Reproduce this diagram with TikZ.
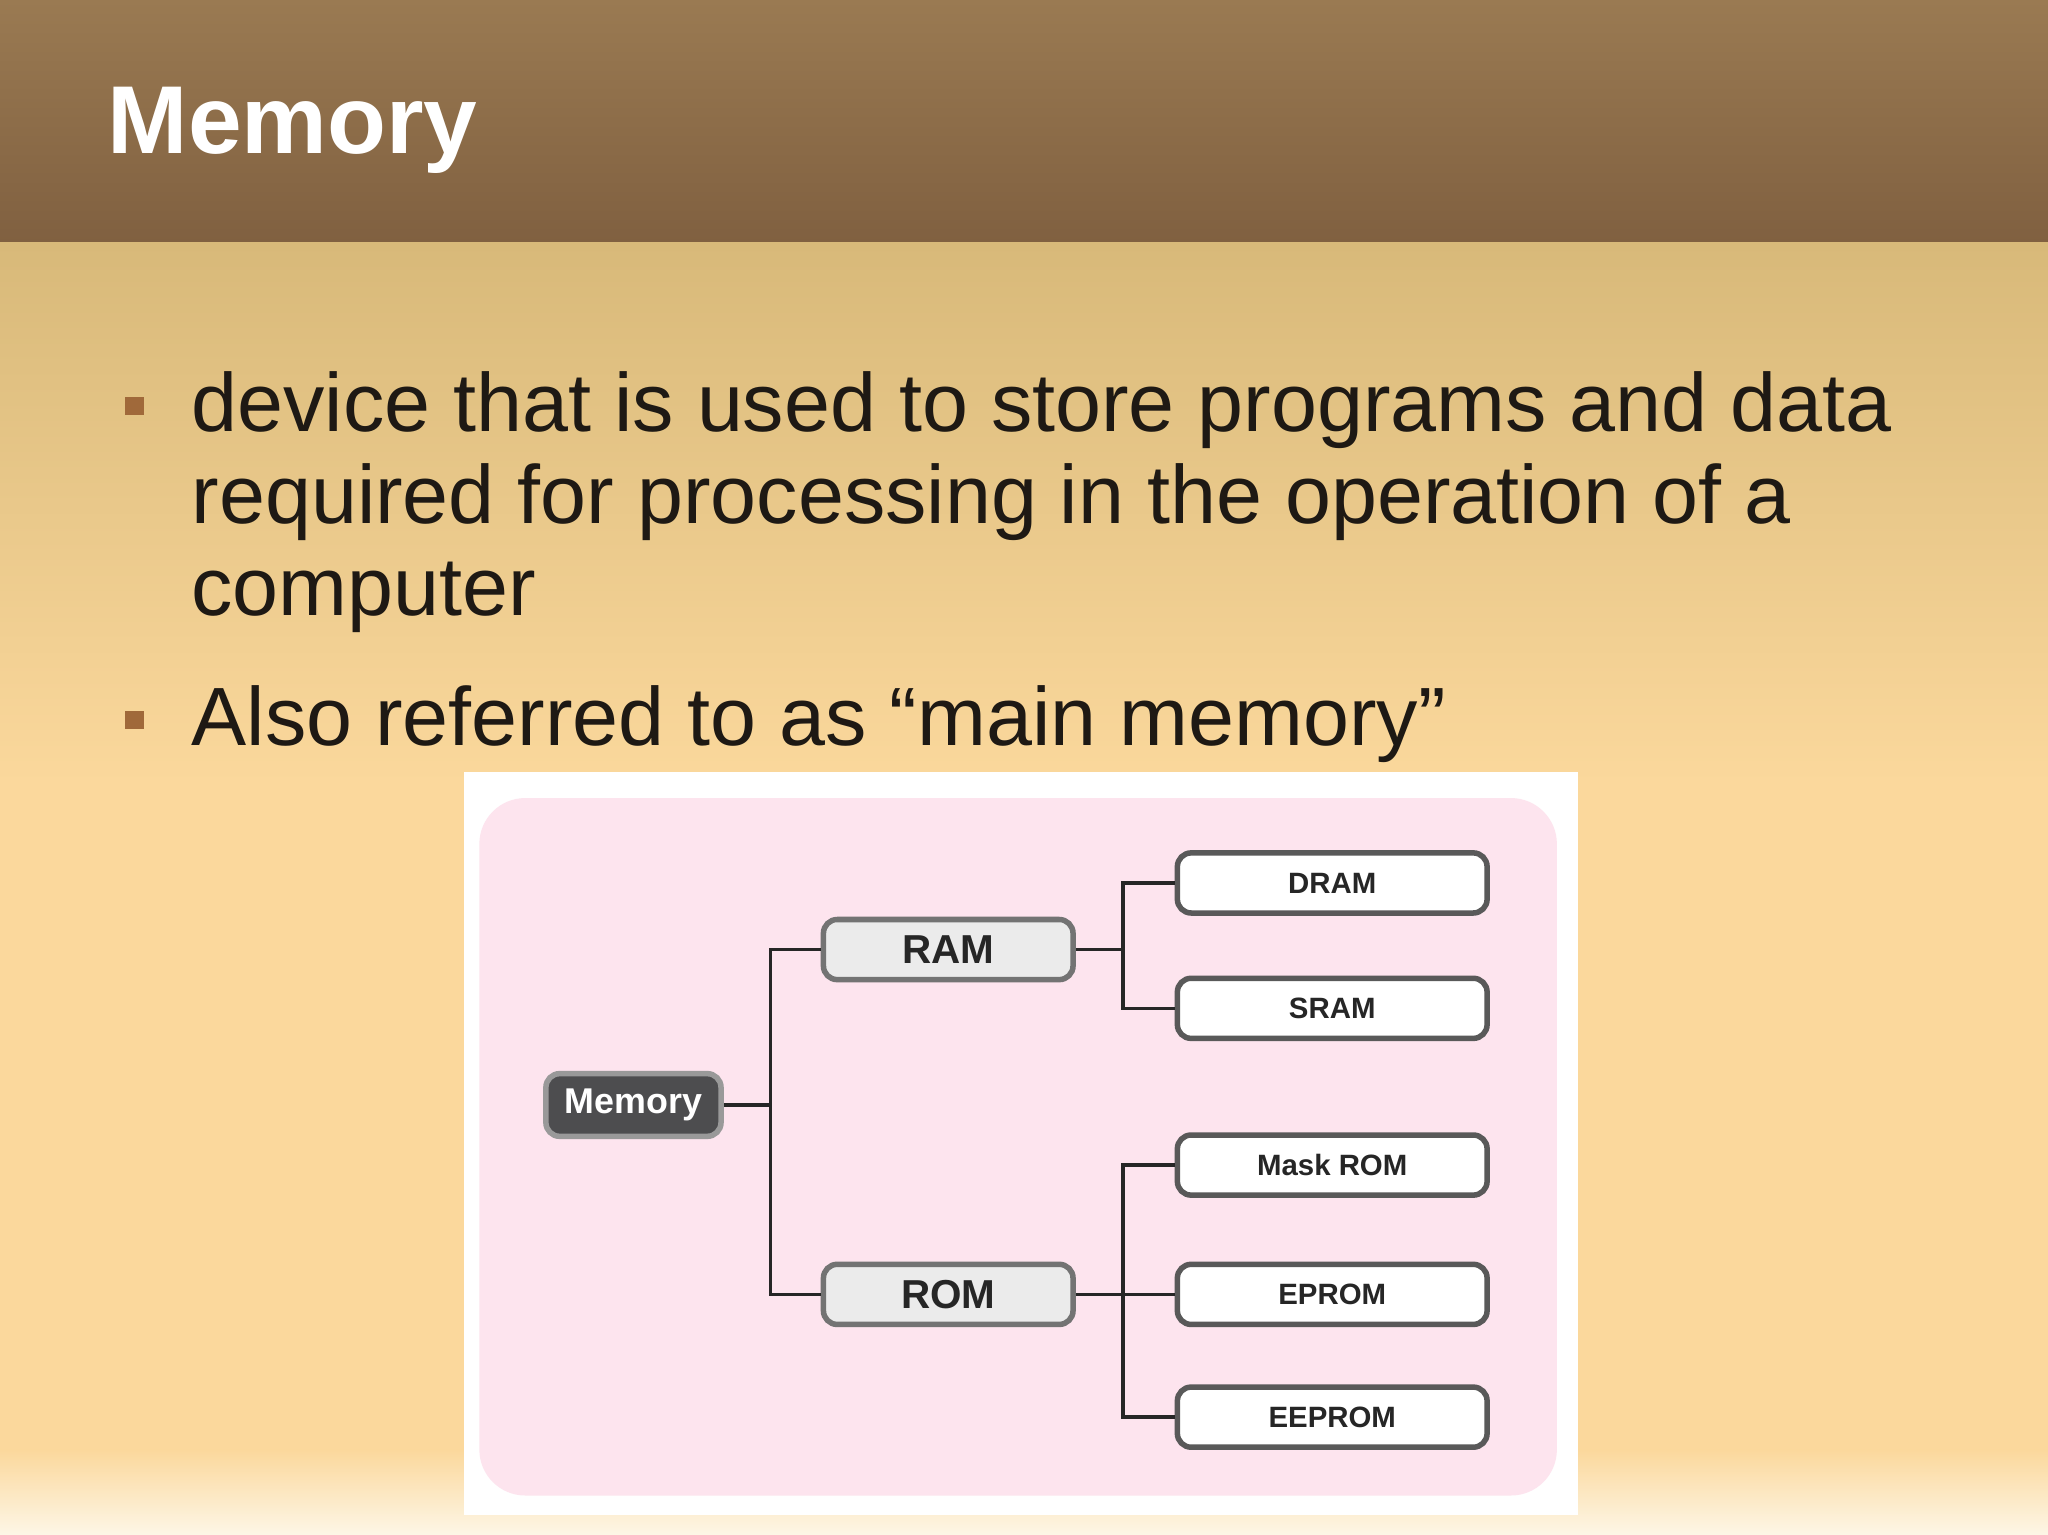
\documentclass[tikz,border=0pt]{standalone}
\usepackage{fontspec}
\setmainfont{Liberation Sans}
\definecolor{hdA}{RGB}{154,122,82}
\definecolor{hdB}{RGB}{128,96,64}
\definecolor{bgA}{RGB}{216,185,121}
\definecolor{bgB}{RGB}{251,216,156}
\definecolor{bgC}{RGB}{253,246,230}
\definecolor{bul}{RGB}{160,105,58}
\definecolor{txt}{RGB}{30,25,20}
\definecolor{pinkbg}{RGB}{253,228,238}
\definecolor{memfill}{RGB}{77,77,79}
\begin{document}
\begin{tikzpicture}[x=0.01cm,y=-0.01cm,
  sub/.style={draw=black!65,line width=1.2pt,rounded corners=3pt,fill=white,minimum width=2.37cm,minimum height=0.46cm,font=\fontsize{6.4}{7}\selectfont\bfseries,text=black!85},
  mid/.style={draw=black!55,line width=1.2pt,rounded corners=3pt,fill=black!8!white,minimum width=1.91cm,minimum height=0.46cm,font=\fontsize{8.8}{10}\selectfont\bfseries,text=black!85},
  con/.style={draw=black!85,line width=0.8pt}]
\useasboundingbox (0,0) rectangle (1568,1175);
\shade[top color=hdA,bottom color=hdB] (0,0) rectangle (1568,186);
\shade[top color=bgA,bottom color=bgB] (0,186) rectangle (1568,600);
\fill[bgB] (0,600) rectangle (1568,1110);
\shade[top color=bgB,bottom color=bgC] (0,1110) rectangle (1568,1175);
\node[anchor=west,text=white,font=\fontsize{21}{24}\selectfont\bfseries] (title) at (70,100) {Memory};
\fill[bul] (96,304) rectangle (110,318);
\fill[bul] (96,544) rectangle (110,558);
\node[anchor=north west,align=left,inner sep=0pt,font=\fontsize{18}{20}\selectfont,text=txt] (b1) at (146,284) {device that is used to store programs and data\\required for processing in the operation of a\\computer};
\node[anchor=north west,inner sep=0pt,font=\fontsize{18}{20}\selectfont,text=txt] (b2) at (146,524) {Also referred to as “main memory”};
\fill[white] (355,591) rectangle (1208,1160);
\fill[pinkbg,rounded corners=10pt] (367,611) rectangle (1192,1145);
\node[draw=black!40,line width=1.2pt,rounded corners=3pt,fill=memfill,text=white,minimum width=1.34cm,minimum height=0.47cm,inner xsep=2pt,font=\fontsize{7.8}{9}\selectfont\bfseries] (mem) at (485,846) {Memory};
\node[mid] (ram) at (726,727) {RAM};
\node[mid] (rom) at (726,991) {ROM};
\node[sub] (dram) at (1020,676) {DRAM};
\node[sub] (sram) at (1020,772) {SRAM};
\node[sub] (mask) at (1020,892) {Mask ROM};
\node[sub] (eprom) at (1020,991) {EPROM};
\node[sub] (eeprom) at (1020,1085) {EEPROM};
\draw[con] (mem.east) -- (590,846);
\draw[con] (ram.west) -| (590,846) |- (rom.west);
\draw[con] (ram.east) -- (860,727);
\draw[con] (dram.west) -| (860,727) |- (sram.west);
\draw[con] (rom.east) -- (eprom.west);
\draw[con] (mask.west) -| (860,991) |- (eeprom.west);
\end{tikzpicture}
\end{document}
